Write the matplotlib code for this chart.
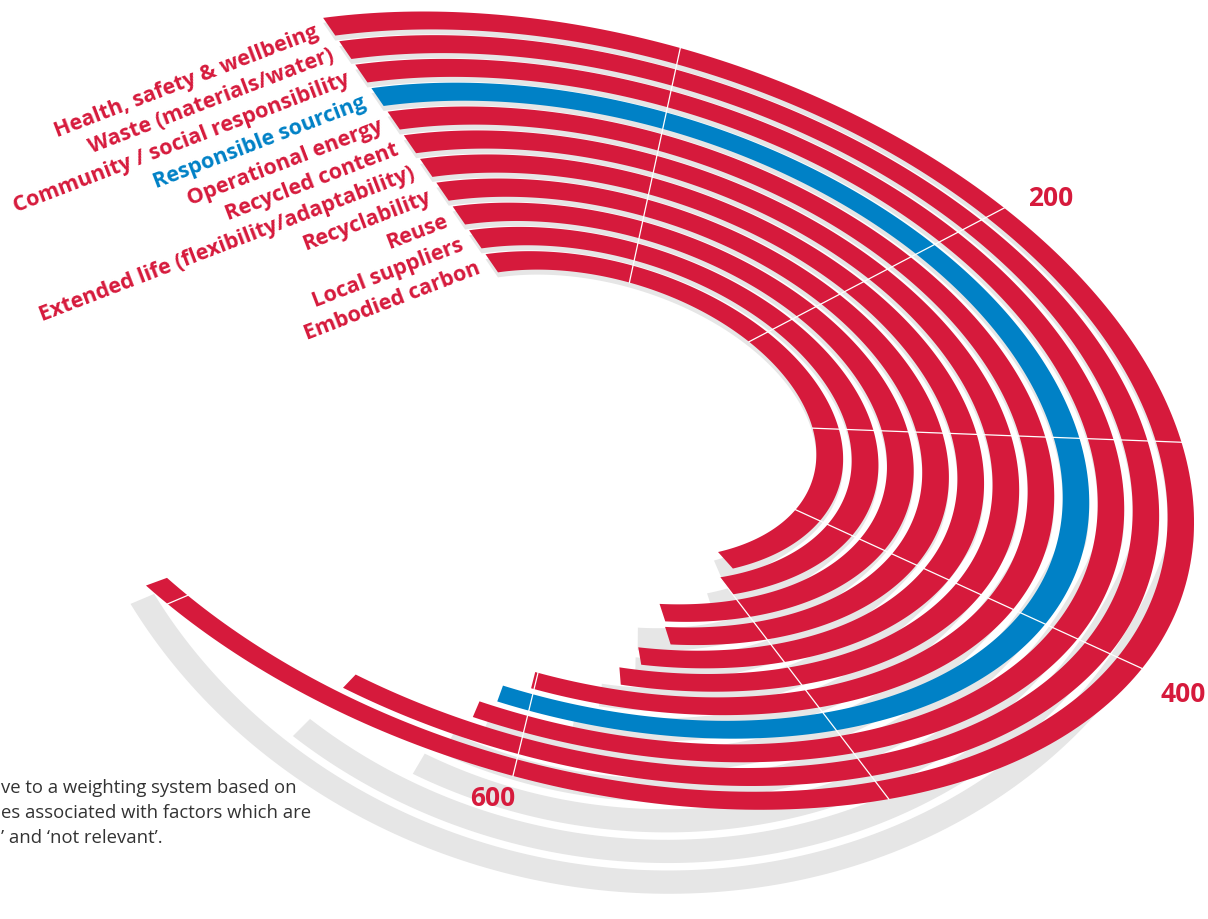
import numpy as np
import matplotlib.pyplot as plt
from matplotlib.patches import Polygon

labels = ["Health, safety & wellbeing", "Waste (materials/water)",
          "Community / social responsibility", "Responsible sourcing",
          "Operational energy", "Recycled content",
          "Extended life (flexibility/adaptability)", "Recyclability", "Reuse",
          "Local suppliers", "Embodied carbon"]
values = [708, 650, 615, 610, 601, 570, 561, 546, 545, 500, 487]
highlight = "Responsible sourcing"
grid_values = [100, 200, 300, 400, 500, 600, 700]
tick_values = [200, 400, 600]
note = ["ve to a weighting system based on",
        "es associated with factors which are",
        "\u2019 and \u2018not relevant\u2019."]

RED = "#d61a3c"
BLUE = "#0081c6"
SHADOW = "#e6e6e6"

# perspective view of the flat disc (unit circle -> pixels)
H = np.array([[547.2313, -268.9419, 599.4835],
              [-70.46157, -381.2439, 399.5202],
              [0.02663973, 0.02292355, 1.0]])
FULL_TURN = 1000      # score that makes one full turn
R_IN = 0.362          # inner edge of the innermost ring
DROP = 13             # inner rings sit a little lower (px)
GAP_RATIO = 0.32


def proj(r, phi):
    X, Y = r * np.sin(phi), r * np.cos(phi)
    w = H[2, 0] * X + H[2, 1] * Y + 1
    x = (H[0, 0] * X + H[0, 1] * Y + H[0, 2]) / w
    y = (H[1, 0] * X + H[1, 1] * Y + H[1, 2]) / w
    return x, y + DROP * (1 - r) / (1 - R_IN)


def ang(v):
    return 2 * np.pi * v / FULL_TURN


n = len(values)
band = (1 - R_IN) / (n + (n - 1) * GAP_RATIO)
gap = band * GAP_RATIO


def ring(i):
    ro = 1 - i * (band + gap)
    return ro, ro - band


def bar_xy(i, v):
    ro, ri = ring(i)
    t = np.linspace(0, ang(v), 300)
    xo, yo = proj(ro, t)
    xi, yi = proj(ri, t[::-1])
    return np.c_[np.r_[xo, xi], np.r_[yo, yi]]


def shadow_xy(xy):
    # drop shadow grows towards the front (bottom) of the disc
    s = np.clip((xy[:, 1] - 540) / 280, 0, None)
    return xy + np.c_[-95 * s, 82 * s + 5]


fig = plt.figure(figsize=(12.08, 9.19), dpi=100)
ax = fig.add_axes([0, 0, 1, 1])
ax.set_xlim(0, 1208)
ax.set_ylim(919, 0)
ax.axis("off")

for i, v in enumerate(values):
    ax.add_patch(Polygon(shadow_xy(bar_xy(i, v)), closed=True, fc=SHADOW, ec="none", zorder=1))
for i, (lab, v) in enumerate(zip(labels, values)):
    col = BLUE if lab == highlight else RED
    ax.add_patch(Polygon(bar_xy(i, v), closed=True, fc=col, ec="none", zorder=2))

# white score lines across the rings
for g in grid_values:
    x, y = proj(np.array([R_IN, 1.0]), ang(g))
    ax.plot(x, y, color="white", lw=0.9, zorder=3)

for g in tick_values:
    x, y = proj(1.08, ang(g + 4))
    ax.text(x + 4, y - 2, str(g), color=RED, fontsize=19, fontweight="bold", family="Open Sans",
            ha="center", va="center", zorder=4)

for i, lab in enumerate(labels):
    ro, ri = ring(i)
    x, y = proj((ro + ri) / 2, 0.0)
    col = BLUE if lab == highlight else RED
    ax.text(x - 12, y + 5, lab, color=col, fontsize=15.5, fontweight="bold", family="Open Sans",
            rotation=21, rotation_mode="anchor", ha="right", va="center", zorder=4)

# paragraph running in from the left margin
for k, line in enumerate(note):
    ax.text(1, 788 + 25 * k, line, color="#333333", fontsize=13.3, family="Open Sans",
            ha="left", va="center")

fig.savefig("out.png", dpi=100)
